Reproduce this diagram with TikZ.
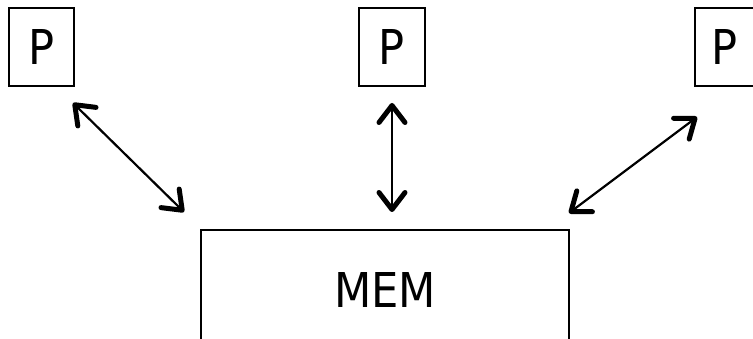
\documentclass[tikz,border=0pt]{standalone}
\usepackage{fontspec}
\setmainfont{DejaVu Sans Condensed}
\usetikzlibrary{arrows.meta}
\begin{document}
\begin{tikzpicture}[x=1pt,y=-1pt,
  box/.style={draw, line width=1.6pt, inner sep=0pt, font=\fontsize{48}{48}\selectfont},
  tip/.tip={Straight Barb[length=17pt,width=26pt,line width=5pt,round]},
  link/.style={line width=2.2pt, tip-tip}]
\useasboundingbox (0,0) rectangle (753,339);
\clip (0,0) rectangle (753,339);
\node[box, minimum width=65pt, minimum height=78pt] (p1) at (41.5,47) {P};
\node[box, minimum width=66pt, minimum height=78pt] (p2) at (392,47) {P};
\node[box, minimum width=60pt, minimum height=78pt] (p3) at (725,47) {P};
\node[box, minimum width=368pt, minimum height=120pt] (mem) at (385,290) {MEM};
\coordinate (a1) at (73,103);
\coordinate (b1) at (184,212);
\coordinate (a2) at (392,103);
\coordinate (b2) at (392,212);
\coordinate (a3) at (697,117);
\coordinate (b3) at (569,213);
\draw[link] (a1) -- (b1);
\draw[link] (a2) -- (b2);
\draw[link] (a3) -- (b3);
\end{tikzpicture}
\end{document}
